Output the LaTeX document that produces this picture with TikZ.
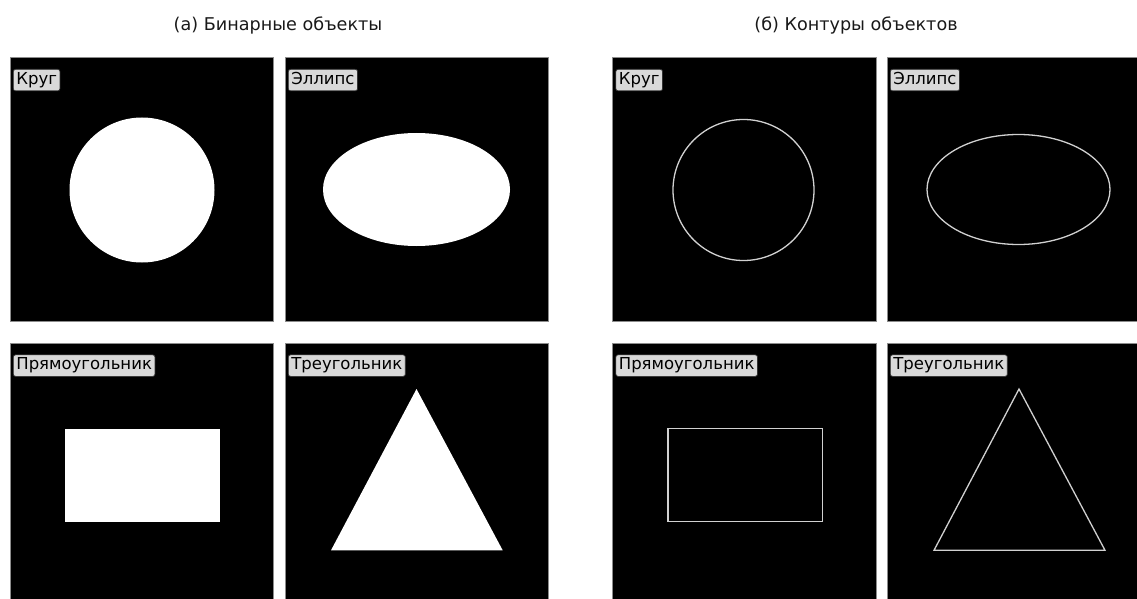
\documentclass[tikz,border=0pt]{standalone}
\usepackage{fontspec}
\setmainfont{DejaVu Sans}
\begin{document}
\begin{tikzpicture}[x=1pt,y=-1pt,
  panel/.style={fill=black,draw=black!45,line width=0.8},
  shapefill/.style={fill=white},
  contour/.style={draw=black!18,line width=1.3},
  lbl/.style={anchor=north west,fill=black!15,draw=black!80,line width=0.7,rounded corners=2.2,
    inner xsep=3,inner ysep=3,text height=12,text depth=3.5,font=\fontsize{16.5}{19}\selectfont},
  ttl/.style={font=\fontsize{17.6}{20}\selectfont,text=black!90}]
\useasboundingbox (0,0) rectangle (1137,599);
\clip (0,0) rectangle (1137,599);
% titles
\node[ttl] (t1) at (278,25) {(а) Бинарные объекты};
\node[ttl] (t2) at (856,25) {(б) Контуры объектов};
% panels
\foreach \x in {10,285,612.5,887}{
  \foreach \y in {57.5,343}{
    \draw[panel] (\x,\y) rectangle ++(263.5,264);
  }
}
% filled shapes
\fill[shapefill] (142,190) circle (72.5);
\fill[shapefill] (416.5,189.5) ellipse (93.5 and 56.5);
\fill[shapefill] (65,428.5) rectangle (220,521.5);
\fill[shapefill] (416.5,389) -- (331,550.3) -- (502.7,550.3) -- cycle;
% contours
\draw[contour] (743.5,190) circle (70.5);
\draw[contour] (1018.5,189.5) ellipse (91.5 and 55);
\draw[contour] (668,428.7) rectangle (822.7,521.7);
\draw[contour] (1019,389) -- (934,550.3) -- (1105,550.3) -- cycle;
% labels
\node[lbl] (l1) at (13,69) {Круг};
\node[lbl] (l2) at (288,69) {Эллипс};
\node[lbl] (l3) at (13,354.5) {Прямоугольник};
\node[lbl] (l4) at (288,354.5) {Треугольник};
\node[lbl] (l5) at (615.5,69) {Круг};
\node[lbl] (l6) at (890,69) {Эллипс};
\node[lbl] (l7) at (615.5,354.5) {Прямоугольник};
\node[lbl] (l8) at (890,354.5) {Треугольник};
\end{tikzpicture}
\end{document}
